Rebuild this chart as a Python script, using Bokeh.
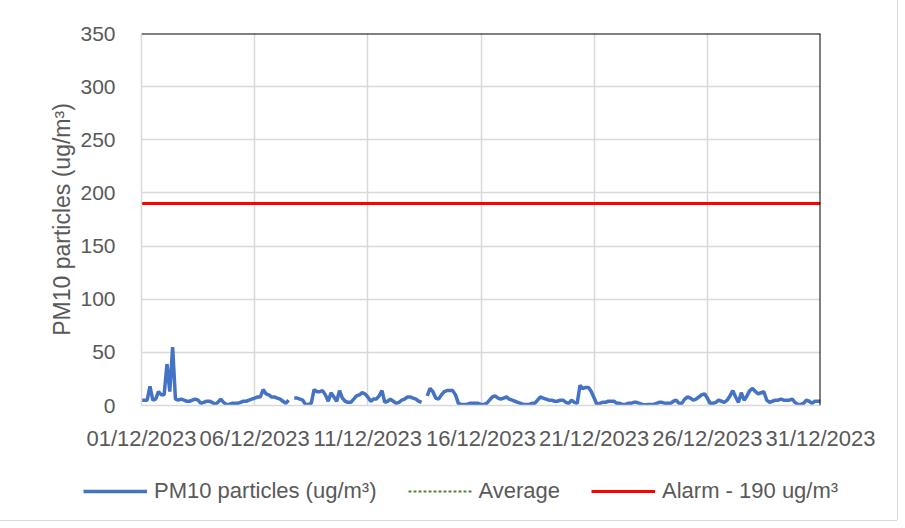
import numpy as np
import pandas as pd
from bokeh.plotting import figure
from bokeh.models import (FixedTicker, DatetimeTickFormatter, Span, Legend,
                          LegendItem, Range1d)
from bokeh.embed import file_html
from bokeh.resources import INLINE

nan = np.nan
start_date = "2023-12-01"
sample_step = "3h"
pm10 = [
    5, 5, 5, 18, 5, 6, 13, 10, 10, 39, 13, 55, 6, 5, 6, 5, 4, 4, 5, 6,
    5, 2, 3, 4, 4, 3, 1, 3, 6, 3, 1, 1, 2, 2, 2, 3, 4, 4, 5, 6,
    7, 8, 8, 15, 11, 10, 8, 8, 7, 6, 4, 2, 5, nan, 7, 7, 6, 5, 1, 1,
    2, 15, 13, 13, 14, 10, 4, 12, 8, 4, 14, 7, 4, 3, 3, 6, 9, 10, 12, 11,
    8, 4, 6, 6, 9, 14, 3, 4, 6, 4, 2, 3, 5, 6, 8, 8, 7, 6, 4, 3,
    nan, 9, 16, 13, 7, 6, 10, 13, 14, 14, 14, 10, 2, 1, 1, 1, 2, 2, 2, 2,
    1, 1, 2, 5, 8, 9, 7, 6, 7, 8, 6, 5, 4, 3, 2, 1, 1, 1, 2, 2,
    5, 8, 7, 6, 5, 5, 4, 4, 5, 5, 3, 2, 5, 3, 2, 19, 16, 17, 17, 13,
    7, 1, 2, 3, 3, 4, 4, 4, 2, 2, 1, 1, 2, 2, 3, 3, 2, 1, 0.5, 1,
    1, 1, 2, 3, 3, 2, 2, 2, 4, 5, 2, 2, 6, 8, 7, 5, 6, 8, 10, 11,
    7, 2, 2, 3, 5, 4, 3, 5, 9, 14, 8, 3, 12, 5, 9, 14, 16, 13, 11, 12,
    13, 5, 3, 4, 5, 5, 6, 5, 5, 5, 6, 3, 1, 1, 2, 5, 4, 2, 4, 4,
    4,
]
average_times = [start_date]
average = [nan]         # average series has no visible points
alarm_level = 190
series_names = ["PM10 particles (ug/m³)", "Average", "Alarm - 190 ug/m³"]
tick_dates = ["2023-12-01", "2023-12-06", "2023-12-11", "2023-12-16",
              "2023-12-21", "2023-12-26", "2023-12-31"]
y_ticks = [0, 50, 100, 150, 200, 250, 300, 350]

times = pd.date_range(start_date, periods=len(pm10), freq=sample_step)
avg_times = pd.to_datetime(average_times)
t0, t1 = times[0], times[-1]
tick_ms = [pd.Timestamp(d).value / 1e6 for d in tick_dates]

FONT = "Liberation Sans"
TXT = "#595959"
GRID = "#d9d9d9"
BLUE, GREEN, RED = "#4472C4", "#548235", "#FF0000"

p = figure(frame_width=679, frame_height=372, output_backend="svg",
           toolbar_location=None, x_axis_type="datetime",
           x_range=Range1d(t0, t1), y_range=Range1d(y_ticks[0], y_ticks[-1]),
           min_border_left=141, min_border_right=77, min_border_top=33,
           min_border_bottom=60)
p.outline_line_color = None
p.background_fill_color = "white"
p.border_fill_color = "white"

xt = FixedTicker(ticks=tick_ms)
p.xaxis.ticker = xt
p.xgrid.ticker = xt
fmt = "%d/%m/%Y"
p.xaxis.formatter = DatetimeTickFormatter(days=fmt, months=fmt, years=fmt,
                                          hours=fmt, minutes=fmt, seconds=fmt,
                                          milliseconds=fmt, microseconds=fmt,
                                          hourmin=fmt, minsec=fmt)
yt = FixedTicker(ticks=y_ticks)
p.yaxis.ticker = yt
p.ygrid.ticker = yt

for ax in (p.xaxis[0], p.yaxis[0]):
    ax.major_tick_line_color = None
    ax.minor_tick_line_color = None
    ax.axis_line_color = GRID
    ax.axis_line_width = 1.5
    ax.major_label_text_font = FONT
    ax.major_label_text_color = TXT
p.yaxis.major_label_text_font_size = "21px"
p.xaxis.major_label_text_font_size = "22px"
p.xaxis.major_label_standoff = 14
p.yaxis.major_label_standoff = 20
p.yaxis.axis_label = series_names[0]
p.yaxis.axis_label_text_font = FONT
p.yaxis.axis_label_text_font_size = "23px"
p.yaxis.axis_label_text_font_style = "normal"
p.yaxis.axis_label_text_color = TXT
p.yaxis.axis_label_standoff = 2

p.grid.grid_line_color = GRID
p.grid.grid_line_width = 1.5

# black top and right borders of the plot area
p.add_layout(Span(location=y_ticks[-1], dimension="width",
                  line_color="black", line_width=2))
p.add_layout(Span(location=t1.value / 1e6, dimension="height",
                  line_color="black", line_width=2))

p.line(times, pm10, line_color=BLUE, line_width=3.5)
p.line(avg_times, average, line_color=GREEN, line_width=2, line_dash="4 2")
p.line([t0, t1], [alarm_level, alarm_level], line_color=RED, line_width=3)

# legend strip below the chart (same series, drawn outside its view range)
leg = figure(width=897, height=55, output_backend="svg", toolbar_location=None,
             x_axis_type=None, y_axis_type=None, min_border=0,
             x_range=Range1d(0, 1), y_range=Range1d(0, 1))
leg.outline_line_color = None
leg.grid.visible = False
l_pm = leg.line(times, pm10, line_color=BLUE, line_width=3.5)
l_avg = leg.line(avg_times, average, line_color=GREEN, line_width=2,
                 line_dash="3 2")
l_alarm = leg.line([t0, t1], [alarm_level, alarm_level], line_color=RED,
                   line_width=3)

legend = Legend(items=[
    LegendItem(label=series_names[0], renderers=[l_pm]),
    LegendItem(label=series_names[1], renderers=[l_avg]),
    LegendItem(label=series_names[2], renderers=[l_alarm]),
], orientation="horizontal", location=(83, 16))
legend.border_line_color = None
legend.background_fill_alpha = 0
legend.label_text_font = FONT
legend.label_text_font_size = "22px"
legend.label_text_color = TXT
legend.glyph_width = 64
legend.label_standoff = 7
legend.spacing = 31
legend.padding = 2
legend.margin = 0
leg.add_layout(legend, "center")

# light chart-area border around both parts
p.styles = {"box-shadow": "0 -1px 0 0 #d9d9d9, 1px 0 0 0 #d9d9d9, "
                          "-1px 0 0 0 #d9d9d9"}
leg.styles = {"box-shadow": "0 1px 0 0 #d9d9d9, 1px 0 0 0 #d9d9d9, "
                            "-1px 0 0 0 #d9d9d9"}

open("out.html", "w").write(file_html((p, leg), INLINE))
